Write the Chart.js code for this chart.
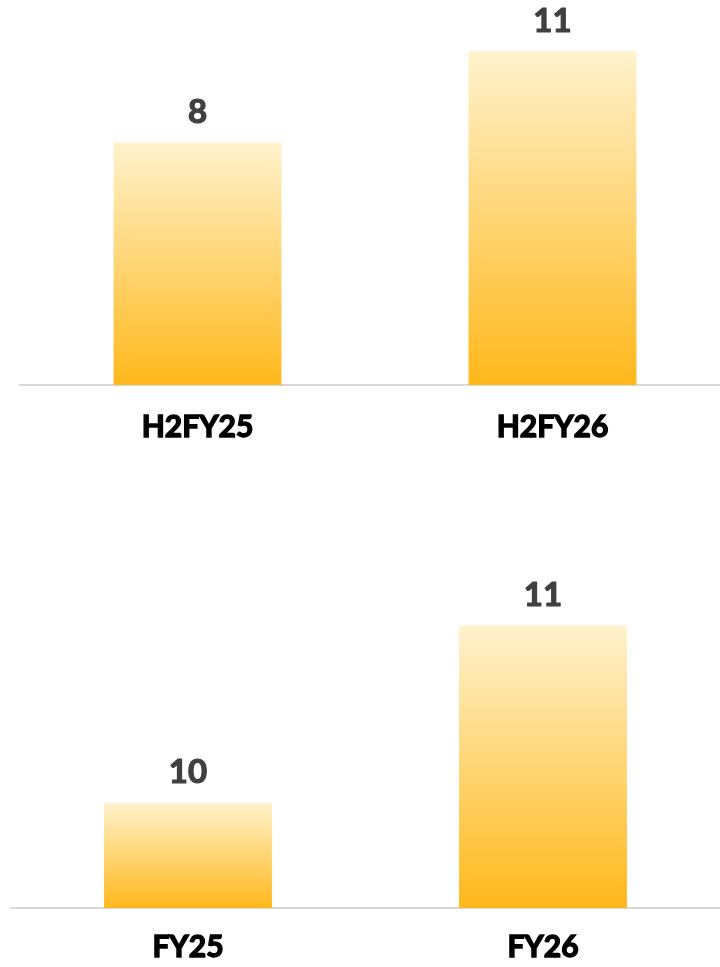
<!DOCTYPE html>
<html>
<head>
<meta charset="utf-8">
<script src="https://cdn.jsdelivr.net/npm/chart.js@4.4.0/dist/chart.umd.min.js"></script>
<style>
  html, body { margin: 0; padding: 0; background: #fff; overflow: hidden; width: 720px; height: 967px; }
  .box { position: absolute; left: 0; width: 740px; }
  #topBox { top: 0; height: 469px; }
  #botBox { top: 500px; height: 486px; }
</style>
</head>
<body>
<div class="box" id="topBox"><canvas id="topChart"></canvas></div>
<div class="box" id="botBox"><canvas id="botChart"></canvas></div>
<script>
// --- data ---
const halfLabels = ["H2FY25", "H2FY26"];
const halfValues = [8, 11];
const yearLabels = ["FY25", "FY26"];
const yearValues = [10, 11];

const FONT = "Lato, 'Open Sans', sans-serif";

// gradient light on top, amber at the base, per bar
function barGradient(ctx) {
    const chart = ctx.chart;
    if (!chart.chartArea) return "#FFC000";
    const y = chart.scales.y;
    const top = y.getPixelForValue(ctx.raw);
    const bottom = y.getPixelForValue(y.min);
    const g = chart.ctx.createLinearGradient(0, top, 0, bottom);
    g.addColorStop(0, "#FFF2CD");
    g.addColorStop(1, "#FFB81B");
    return g;
}

// value labels above bars (stroked a bit for a heavier look)
const valueLabels = {
    id: "valueLabels",
    afterDatasetsDraw(chart) {
        const c = chart.ctx;
        const meta = chart.getDatasetMeta(0);
        c.save();
        c.font = "bold 33px " + FONT;
        c.fillStyle = "#404040";
        c.strokeStyle = "#404040";
        c.lineWidth = 1.2;
        c.lineJoin = "round";
        c.textAlign = "center";
        c.textBaseline = "middle";
        meta.data.forEach((bar, i) => {
            const txt = String(chart.data.datasets[0].data[i]);
            c.fillText(txt, bar.x, bar.y - 30);
            c.strokeText(txt, bar.x, bar.y - 30);
        });
        c.restore();
    }
};

function makeChart(id, labels, values, yMin, yMax, padLeft, padRight, tickPad) {
    return new Chart(document.getElementById(id), {
        type: "bar",
        data: {
            labels: labels,
            datasets: [{
                data: values,
                backgroundColor: barGradient,
                borderWidth: 0,
                barPercentage: 0.473,
                categoryPercentage: 1
            }]
        },
        options: {
            responsive: true,
            maintainAspectRatio: false,
            animation: false,
            layout: { padding: { left: padLeft, right: padRight, top: 0, bottom: 0 } },
            plugins: { legend: { display: false }, tooltip: { enabled: false } },
            scales: {
                x: {
                    grid: { display: false, drawTicks: false },
                    border: { display: true, color: "#D9D9D9", width: 2 },
                    ticks: {
                        color: "#000",
                        padding: tickPad,
                        textStrokeColor: "#000",
                        textStrokeWidth: 1.4,
                        font: { family: FONT, size: 30, weight: "bold" }
                    }
                },
                y: { display: false, min: yMin, max: yMax }
            }
        },
        plugins: [valueLabels]
    });
}

makeChart("topChart", halfLabels, halfValues, 0, 12.69, 20, 10, 24);
makeChart("botChart", yearLabels, yearValues, 9.407, 11.707, 10.5, 19.5, 21);
</script>
</body>
</html>
